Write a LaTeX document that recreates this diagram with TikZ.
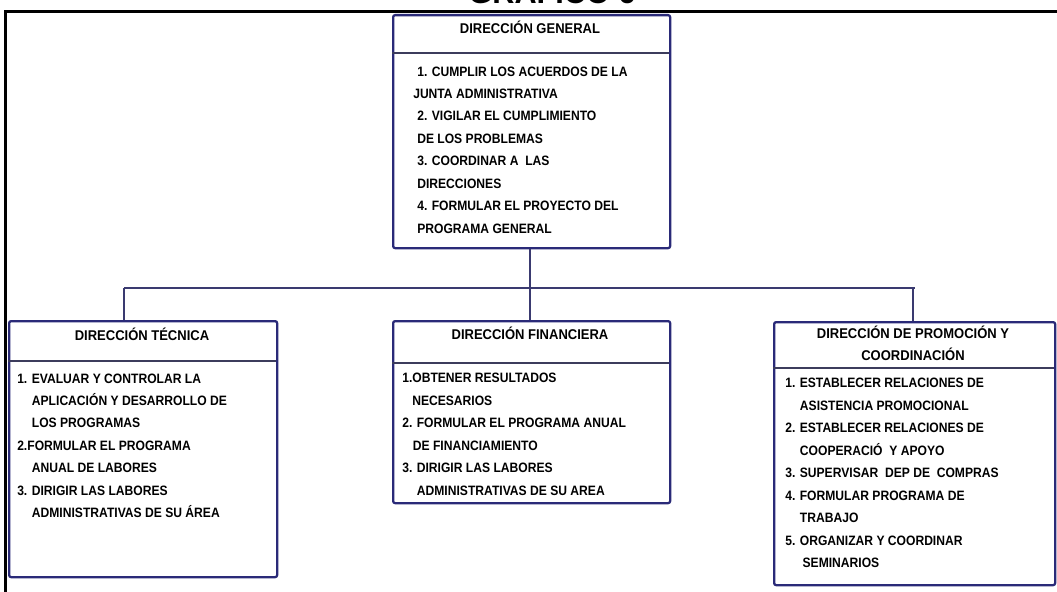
\documentclass[tikz,border=0pt]{standalone}
\usepackage{fontspec}
\setmainfont{Liberation Sans}[FakeStretch=0.89]
\newfontfamily\hdrfont{Liberation Sans}[FakeStretch=0.92]
\newfontfamily\titlefont{Liberation Sans}
\definecolor{navy}{HTML}{2A2A78}
\definecolor{conn}{HTML}{3A3A70}
\definecolor{sep}{HTML}{3C3C5C}
\tikzset{
  box/.style={draw=navy, line width=1.7pt, rounded corners=1.5pt, anchor=north west, inner sep=0pt, fill=white},
  conline/.style={draw=conn, line width=1.1pt},
  sepline/.style={draw=sep, line width=1.1pt},
  txt/.style={anchor=base west, inner sep=0pt, align=left, font=\bfseries\fontsize{10.2}{16.85}\selectfont},
  hdr/.style={anchor=base, inner sep=0pt, align=center, font=\hdrfont\bfseries\fontsize{10.6}{15.8}\selectfont},
}
\begin{document}
\begin{tikzpicture}[x=0.75pt,y=-0.75pt]
\useasboundingbox (0,0) rectangle (1057,592);
\clip (0,0) rectangle (1057,592);
% title (cut off at the top)
\node[anchor=base, inner sep=0pt, font=\titlefont\bfseries\fontsize{23}{23}\selectfont] (title) at (552,3.5) {GRAFICO 6};
% outer frame
\draw[line width=2.5pt, black] (5.5,594) -- (5.5,11.5) -- (1060,11.5);
% boxes
\node[box, minimum width=207.75pt, minimum height=174.75pt] (gen) at (392,14) {};
\node[box, minimum width=201pt, minimum height=192pt] (tec) at (8,320) {};
\node[box, minimum width=207.75pt, minimum height=136.5pt] (fin) at (392,320) {};
\node[box, minimum width=210.75pt, minimum height=197.25pt] (pro) at (773,321) {};
% header separators
\draw[sepline] (392,53) -- (669,53);
\draw[sepline] (8,361) -- (276,361);
\draw[sepline] (392,363) -- (669,363);
\draw[sepline] (773,368) -- (1054,368);
% connectors
\coordinate (j) at (530,288);
\coordinate (jl) at (124,288);
\coordinate (jr) at (913,288);
\coordinate (jre) at (915,288);
\draw[conline] (gen.south -| j) -- (j);
\draw[conline] (jl) -- (jre);
\draw[conline] (jl) -- (jl |- tec.north);
\draw[conline] (j) -- (j |- fin.north);
\draw[conline] (jr) -- (jr |- pro.north);
% headers (anchor = baseline of last line)
\node[hdr] (genh) at (530,34) {DIRECCIÓN GENERAL};
\node[hdr] (tech) at (142,340) {DIRECCIÓN TÉCNICA};
\node[hdr] (finh) at (530,339) {DIRECCIÓN FINANCIERA};
\node[hdr] (proh) at (913,360) {DIRECCIÓN DE PROMOCIÓN Y\\COORDINACIÓN};
% contents (anchor = baseline of last line)
\node[txt] (gent) at (413,233.3) {\hspace*{3pt}1. CUMPLIR LOS ACUERDOS DE LA\\JUNTA ADMINISTRATIVA\\\hspace*{3pt}2. VIGILAR EL CUMPLIMIENTO\\\hspace*{3pt}DE LOS PROBLEMAS\\\hspace*{3pt}3. COORDINAR A\ \ LAS\\\hspace*{3pt}DIRECCIONES\\\hspace*{3pt}4. FORMULAR EL PROYECTO DEL\\\hspace*{3pt}PROGRAMA GENERAL};
\node[txt] (tect) at (17,517.8) {1. EVALUAR Y CONTROLAR LA\\\hspace*{11pt}APLICACIÓN Y DESARROLLO DE\\\hspace*{11pt}LOS PROGRAMAS\\2.FORMULAR EL PROGRAMA\\\hspace*{11pt}ANUAL DE LABORES\\3. DIRIGIR LAS LABORES\\\hspace*{11pt}ADMINISTRATIVAS DE SU ÁREA};
\node[txt] (fint) at (402,495.3) {1.OBTENER RESULTADOS\\\hspace*{7.5pt}NECESARIOS\\2. FORMULAR EL PROGRAMA ANUAL\\\hspace*{8pt}DE FINANCIAMIENTO\\3. DIRIGIR LAS LABORES\\\hspace*{11pt}ADMINISTRATIVAS DE SU AREA};
\node[txt] (prot) at (785,567.7) {1. ESTABLECER RELACIONES DE\\\hspace*{11pt}ASISTENCIA PROMOCIONAL\\2. ESTABLECER RELACIONES DE\\\hspace*{11pt}COOPERACIÓ\ \ Y APOYO\\3. SUPERVISAR\ \ DEP DE\ \ COMPRAS\\4. FORMULAR PROGRAMA DE\\\hspace*{11pt}TRABAJO\\5. ORGANIZAR Y COORDINAR\\\hspace*{13pt}SEMINARIOS};
\end{tikzpicture}
\end{document}
